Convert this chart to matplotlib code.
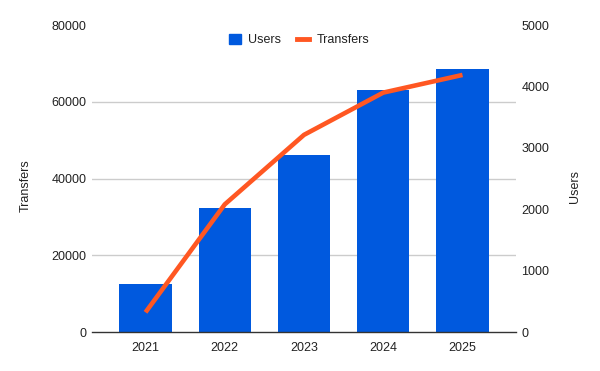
import matplotlib
matplotlib.use("Agg")
import matplotlib.pyplot as plt
import numpy as np
from matplotlib.patches import Patch
from matplotlib.lines import Line2D

years = ["2021", "2022", "2023", "2024", "2025"]
users = [786, 2022, 2885, 3942, 4284]
transfers = [5200, 33300, 51400, 62400, 67000]

BLUE = "#0059de"
ORANGE = "#ff5722"
TXT = "#222222"

plt.rcParams["font.family"] = ["Liberation Sans", "DejaVu Sans"]
plt.rcParams["font.size"] = 9

fig = plt.figure(figsize=(6, 3.71), dpi=100)
ax1 = fig.add_axes([92/600, 1-332.3/371, (516-92)/600, 307.3/371])
ax2 = ax1.twinx()

x = np.arange(len(years))

# bars on right axis (Users)
ax2.bar(x, users, width=0.66, color=BLUE, zorder=2)
ax2.set_ylim(0, 5000)
ax2.set_yticks([0, 1000, 2000, 3000, 4000, 5000])
ax2.set_yticks(np.linspace(0, 5000, 5), minor=True)
ax2.grid(which="minor", axis="y", color="#cccccc", linewidth=1)
ax2.grid(which="major", visible=False)
ax2.set_axisbelow(True)
ax2.tick_params(axis="y", which="both", length=0, pad=4, labelcolor=TXT)
ax2.set_ylabel("Users", rotation=90, color=TXT, va="center", ha="center")
ax2.yaxis.set_label_coords(1.138, 0.476)

# line on left axis (Transfers)
ax1.set_zorder(ax2.get_zorder() + 1)
ax1.patch.set_visible(False)
ax1.plot(x, transfers, color=ORANGE, linewidth=3.3, solid_capstyle="butt", zorder=3)
ax1.set_ylim(0, 80000)
ax1.set_yticks([0, 20000, 40000, 60000, 80000])
ax1.tick_params(axis="y", length=0, pad=4, labelcolor=TXT)
ax1.set_ylabel("Transfers", color=TXT, va="center", ha="center")
ax1.yaxis.set_label_coords(-0.157, 0.476)
ax1.set_xlim(-0.675, 4.675)
ax1.set_xticks(x)
ax1.set_xticklabels(years)
ax1.tick_params(axis="x", length=0, pad=7, labelcolor=TXT)

for ax in (ax1, ax2):
    for s in ("top", "left", "right", "bottom"):
        ax.spines[s].set_visible(False)
ax1.axhline(0, color="#333333", linewidth=1, zorder=4, clip_on=False)

handles = [Patch(facecolor=BLUE, edgecolor=BLUE), Line2D([], [], color=ORANGE, linewidth=3.5)]
ax1.legend(handles, ["Users", "Transfers"], loc="center", bbox_to_anchor=(0.488, 0.951),
           ncol=2, frameon=False, handlelength=0.95, handleheight=0.95,
           handletextpad=0.6, columnspacing=1.25, fontsize=9, labelcolor=TXT)

fig.savefig("out.png", dpi=100, facecolor="white")
